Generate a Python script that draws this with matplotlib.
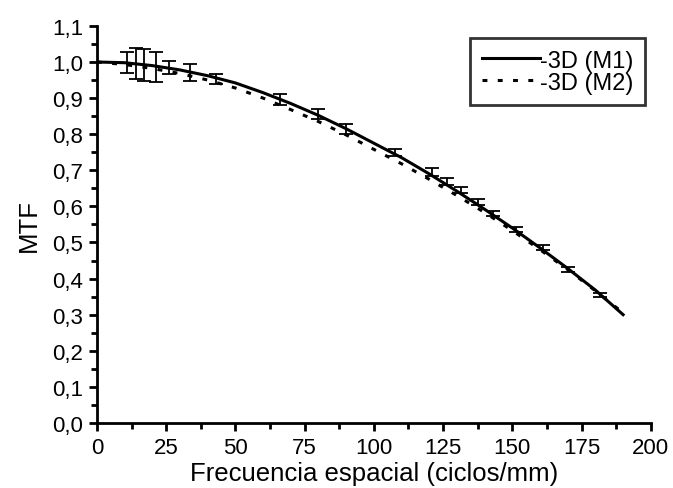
import matplotlib.pyplot as plt
from matplotlib.ticker import MultipleLocator, FuncFormatter

plt.rcParams['font.family'] = ['Liberation Sans', 'DejaVu Sans']

# MTF curves
freq = [0, 10, 20, 30, 40, 50, 60, 70, 80, 90, 100,
        110, 120, 130, 140, 150, 160, 170, 180, 190]
mtf_m1 = [1.000, 0.998, 0.990, 0.978, 0.962, 0.942, 0.915, 0.885, 0.852, 0.815, 0.775,
          0.735, 0.690, 0.642, 0.592, 0.540, 0.485, 0.428, 0.368, 0.300]
mtf_m2 = [1.000, 0.993, 0.982, 0.968, 0.950, 0.928, 0.900, 0.868, 0.835, 0.798, 0.758,
          0.718, 0.675, 0.630, 0.583, 0.533, 0.480, 0.425, 0.366, 0.305]

# measured points with error bars
err_x = [11, 14, 17, 21.5, 26, 33.5, 43, 66, 80, 90, 107.5,
         121, 126.5, 131.5, 137.5, 143, 151.5, 161, 170, 181.5]
err_y = [0.998, 0.995, 0.992, 0.986, 0.985, 0.970, 0.953, 0.895, 0.855, 0.815, 0.750,
         0.695, 0.670, 0.645, 0.613, 0.580, 0.535, 0.485, 0.425, 0.355]
err_e = [0.029, 0.043, 0.044, 0.042, 0.019, 0.024, 0.014, 0.015, 0.014, 0.014, 0.010,
         0.010, 0.010, 0.008, 0.008, 0.008, 0.007, 0.007, 0.006, 0.005]

fig = plt.figure(figsize=(6.73, 4.89), dpi=100)
ax = fig.add_axes([0.144, 0.133, 0.823, 0.812])

ax.plot(freq, mtf_m1, color='black', lw=2.2, label='-3D (M1)')
ax.plot(freq, mtf_m2, color='black', lw=2.2, dashes=(1.6, 3.4), label='-3D (M2)')
ax.errorbar(err_x, err_y, yerr=err_e, fmt='none', ecolor='black',
            elinewidth=1.3, capsize=5, capthick=1.3)

ax.set_xlim(0, 200)
ax.set_ylim(0, 1.1)
ax.xaxis.set_major_locator(MultipleLocator(25))
ax.xaxis.set_minor_locator(MultipleLocator(12.5))
ax.yaxis.set_major_locator(MultipleLocator(0.1))
ax.yaxis.set_minor_locator(MultipleLocator(0.05))
ax.yaxis.set_major_formatter(FuncFormatter(lambda v, p: f"{v:.1f}".replace('.', ',')))

for s in ['top', 'right']:
    ax.spines[s].set_visible(False)
for s in ['left', 'bottom']:
    ax.spines[s].set_linewidth(2.0)

ax.tick_params(which='major', direction='out', length=6, width=2.0, labelsize=16, pad=4)
ax.tick_params(which='minor', direction='out', length=4, width=2.0)

ax.set_xlabel('Frecuencia espacial (ciclos/mm)', fontsize=18.5, labelpad=2)
ax.set_ylabel('MTF', fontsize=18.5, labelpad=8)

leg = ax.legend(loc='upper right', bbox_to_anchor=(0.99, 0.97), fontsize=17,
                fancybox=False, edgecolor='black', handlelength=2.45,
                handletextpad=0.0, borderpad=0.5, labelspacing=0.0,
                borderaxespad=0.0)
leg.get_frame().set_linewidth(2.0)

fig.savefig('out.png', dpi=100)
